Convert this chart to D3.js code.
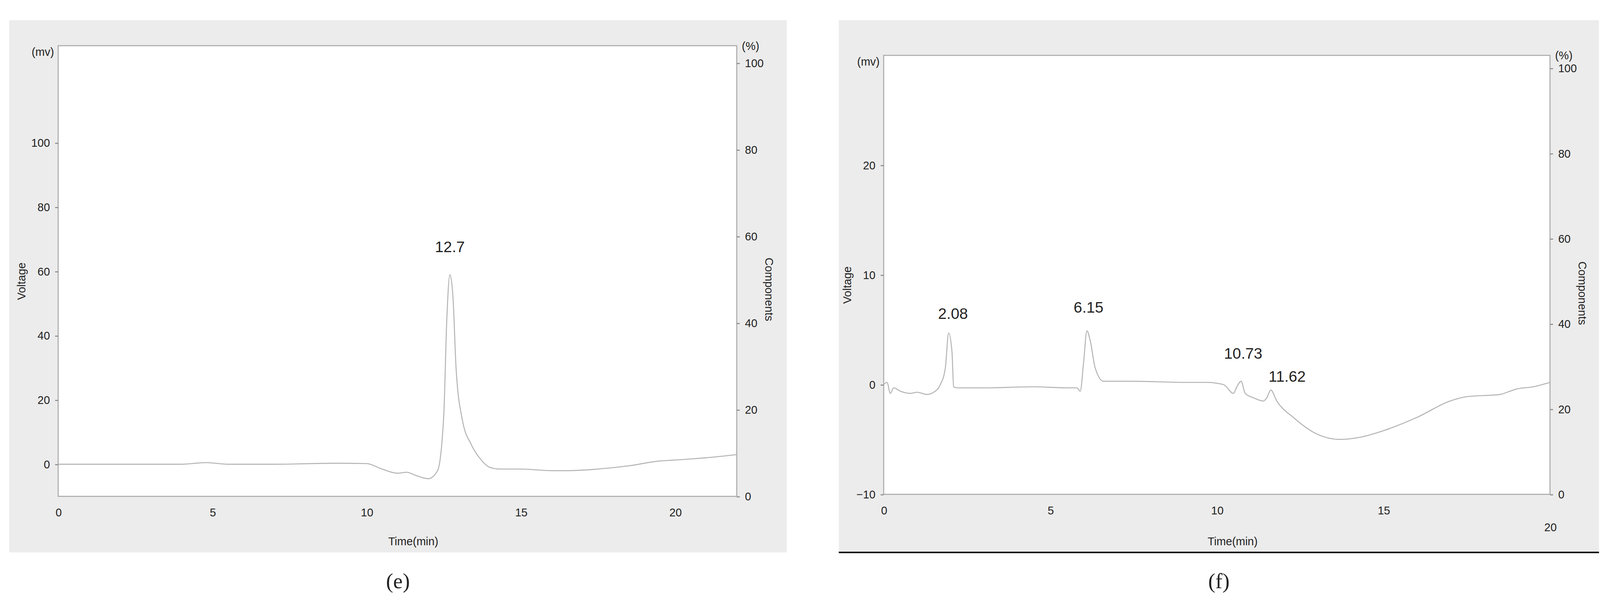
<!DOCTYPE html>
<html>
<head>
<meta charset="utf-8">
<script src="https://cdn.jsdelivr.net/npm/d3@7"></script>
<style>
html, body { margin: 0; padding: 0; background: #fff; overflow: hidden; }
svg { display: block; }
text { font-family: "Liberation Sans Narrow", "Liberation Sans", sans-serif; fill: #222; }
</style>
</head>
<body>
<script>
// chromatogram (e)
var timeE = [0, 2, 4, 4.8, 5.5, 7, 9, 10, 10.5, 11, 11.3, 11.6, 12, 12.3, 12.5, 12.6, 12.7, 12.8, 12.9, 13.1, 13.4, 13.7, 14, 14.3, 15, 16, 16.5, 17.5, 18.5, 19.5, 20, 21, 22];
var voltE = [0, 0, 0, 0.5, 0, 0, 0.3, 0.2, -1.5, -2.8, -2.5, -3.5, -4.5, -2, 15, 45, 59, 52, 30, 14, 6, 1.5, -1, -1.5, -1.5, -2, -2, -1.5, -0.5, 1, 1.3, 2, 3];
// chromatogram (f)
var timeF = [0, 0.1, 0.2, 0.3, 0.5, 0.8, 1.0, 1.3, 1.5, 1.7, 1.85, 1.95, 2.05, 2.1, 2.2, 2.3, 3, 4.5, 5.5, 5.8, 5.9, 6.0, 6.1, 6.2, 6.35, 6.6, 7.5, 9, 9.7, 10.2, 10.5, 10.6, 10.73, 10.85, 11.1, 11.4, 11.5, 11.62, 11.8, 12.3, 13, 13.7, 14.3, 15, 16, 17, 17.5, 18.5, 18.8, 19, 19.5, 20];
var voltF = [0, 0.2, -0.8, -0.3, -0.6, -0.8, -0.7, -0.9, -0.7, 0, 1.5, 4.7, 3, -0.2, -0.3, -0.3, -0.3, -0.2, -0.3, -0.3, -0.6, 2, 4.9, 4.0, 1.5, 0.3, 0.3, 0.2, 0.2, 0, -0.8, -0.2, 0.3, -0.8, -1.2, -1.5, -1.2, -0.5, -1.5, -3, -4.5, -5, -4.8, -4.2, -3, -1.5, -1.1, -0.9, -0.6, -0.4, -0.2, 0.2];

var peaksE = [{t: 12.7, label: "12.7", v: 59, off: 22, dx: 0}];
var peaksF = [{t: 2.08, label: "2.08", v: 4.7, off: 14, dx: 0}, {t: 6.15, label: "6.15", v: 4.9, off: 18, dx: 0},
              {t: 10.73, label: "10.73", v: 0.3, off: 22, dx: 2}, {t: 11.62, label: "11.62", v: -0.5, off: 8, dx: 16}];

var yTicksE = [0, 20, 40, 60, 80, 100];
var yTicksF = [-10, 0, 10, 20];
var pctTicks = [0, 20, 40, 60, 80, 100];

var svg = d3.select("body").append("svg")
    .attr("width", window.innerWidth || 4249).attr("height", window.innerHeight || 1568)
    .attr("viewBox", "0 0 1568 578.6")
    .attr("preserveAspectRatio", "xMidYMid meet");

function panel(o) {
    var g = svg.append("g");
    g.append("rect").attr("x", o.bx).attr("y", 9).attr("width", o.bw).attr("height", 522).attr("fill", "#ececec");
    var x = d3.scaleLinear().domain(o.xd).range([o.x0, o.x1]);
    var y = d3.scaleLinear().domain(o.yd).range([o.yb, o.yt]);
    var yp = d3.scaleLinear().domain(o.pd).range([o.yb, o.yt]);
    g.append("rect").attr("x", o.x0).attr("y", o.yt).attr("width", o.x1 - o.x0).attr("height", o.yb - o.yt)
        .attr("fill", "#fff").attr("stroke", "#aaa");

    var xa = g.append("g").attr("transform", "translate(0," + o.yb + ")")
        .call(d3.axisBottom(x).tickValues(o.xt).tickSize(0).tickPadding(12));
    var ya = g.append("g").attr("transform", "translate(" + o.x0 + ",0)")
        .call(d3.axisLeft(y).tickValues(o.yTicks).tickSize(3).tickPadding(5));
    var pa = g.append("g").attr("transform", "translate(" + o.x1 + ",0)")
        .call(d3.axisRight(yp).tickValues(pctTicks).tickSize(3).tickPadding(5));
    [xa, ya, pa].forEach(function(a) {
        a.select(".domain").remove();
        a.selectAll("line").attr("stroke", "#888");
        a.selectAll("text").style("font-size", "11px").attr("fill", "#333");
    });
    if (o.lastLow) xa.selectAll(".tick").filter(function(d) { return d === 20; }).select("text").attr("dy", "2.2em");

    var line = d3.line().x(function(d) { return x(d[0]); }).y(function(d) { return y(d[1]); }).curve(d3.curveMonotoneX);
    g.append("path").datum(o.t.map(function(t, i) { return [t, o.v[i]]; }))
        .attr("d", line).attr("fill", "none").attr("stroke", "#b5b5b5").attr("stroke-width", 1);

    g.selectAll(".pk").data(o.peaks).enter().append("text")
        .attr("x", function(d) { return x(d.t) + d.dx; })
        .attr("y", function(d) { return y(d.v) - d.off; })
        .attr("text-anchor", "middle").style("font-size", "15px").text(function(d) { return d.label; });

    g.append("text").attr("x", o.x0 - 4).attr("y", o.yt + 10).attr("text-anchor", "end").style("font-size", "11px").text("(mv)");
    g.append("text").attr("x", o.x1 + 5).attr("y", o.yt + 4).style("font-size", "11px").text("(%)");
    g.append("text").attr("transform", "translate(" + (o.x0 - 32) + "," + ((o.yt + o.yb) / 2 + 10) + ") rotate(-90)")
        .attr("text-anchor", "middle").style("font-size", "11px").text("Voltage");
    g.append("text").attr("transform", "translate(" + (o.x1 + 28) + "," + ((o.yt + o.yb) / 2 + 18) + ") rotate(90)")
        .attr("text-anchor", "middle").style("font-size", "11px").text("Components");
    g.append("text").attr("x", o.tx).attr("y", 524).attr("text-anchor", "middle").style("font-size", "11px").text("Time(min)");
    g.append("text").attr("x", o.bx + o.bw / 2).attr("y", 566).attr("text-anchor", "middle")
        .style("font-family", "Liberation Serif, serif").style("font-size", "21px").attr("fill", "#000").text(o.cap);
}

panel({bx: 9, bw: 762, x0: 57, x1: 722, yt: 34, yb: 476, xd: [0, 22], yd: [-10, 130.2], pd: [0, 104],
       xt: [0, 5, 10, 15, 20], yTicks: yTicksE, t: timeE, v: voltE, peaks: peaksE, tx: 405, cap: "(e)"});
panel({bx: 822, bw: 745, x0: 866, x1: 1519, yt: 43.5, yb: 474, xd: [0, 20], yd: [-10, 30], pd: [0, 103],
       xt: [0, 5, 10, 15, 20], yTicks: yTicksF, t: timeF, v: voltF, peaks: peaksF, tx: 1208, cap: "(f)", lastLow: true});

svg.append("line").attr("x1", 822).attr("x2", 1567).attr("y1", 531).attr("y2", 531).attr("stroke", "#000").attr("stroke-width", 1.5);
</script>
</body>
</html>
